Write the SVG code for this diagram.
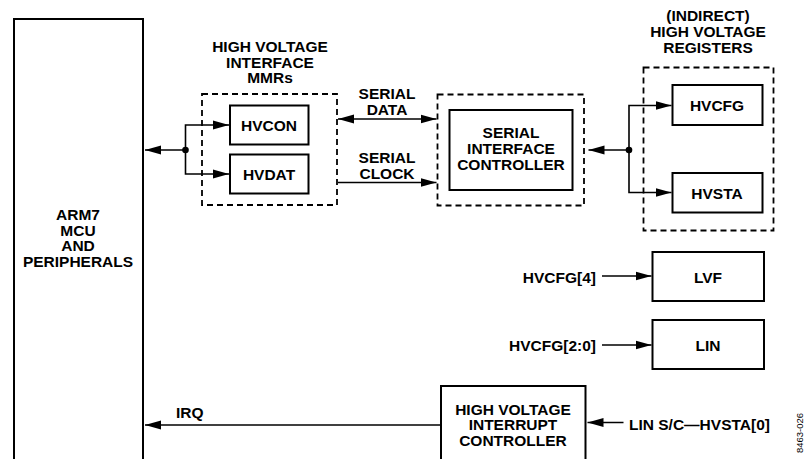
<svg xmlns="http://www.w3.org/2000/svg" width="804" height="459" viewBox="0 0 804 459">
<defs>
<marker id="ah" markerUnits="userSpaceOnUse" markerWidth="17" markerHeight="10" viewBox="0 0 17 10" refX="16" refY="5" orient="auto-start-reverse">
<path d="M0,0.5 L16,5 L0,9.5 Z" fill="#000"/>
</marker>
<style>
.t{font-family:"Liberation Sans",Arial,sans-serif;font-weight:bold;font-size:15.5px;fill:#000;text-anchor:middle}
.box{fill:none;stroke:#000;stroke-width:2}
.dash{fill:none;stroke:#000;stroke-width:1.8;stroke-dasharray:6 4}
.c{fill:none;stroke:#000;stroke-width:1.6}
</style>
</defs>
<rect width="804" height="459" fill="#fff"/>

<g id="arm7">
<path class="box" d="M14,470 V19 H143 V470"/>
<text class="t" x="78" y="220">ARM7</text>
<text class="t" x="78" y="235.5">MCU</text>
<text class="t" x="78" y="251">AND</text>
<text class="t" x="78" y="266.5">PERIPHERALS</text>
</g>

<g id="mmrs">
<text class="t" x="270" y="52">HIGH VOLTAGE</text>
<text class="t" x="270" y="67.5">INTERFACE</text>
<text class="t" x="270" y="83">MMRs</text>
<rect class="dash" x="202" y="94" width="135" height="111"/>
</g>
<g id="hvcon">
<rect class="box" x="230" y="105.5" width="78.5" height="39"/>
<text class="t" x="269" y="130.5">HVCON</text>
</g>
<g id="hvdat">
<rect class="box" x="230" y="154.5" width="78.5" height="39"/>
<text class="t" x="269" y="179.5">HVDAT</text>
</g>

<g id="sic">
<rect class="dash" x="437.5" y="94.5" width="146.5" height="111"/>
<rect class="box" x="449.5" y="110" width="123" height="80"/>
<text class="t" x="511" y="137.5">SERIAL</text>
<text class="t" x="511" y="153.5">INTERFACE</text>
<text class="t" x="511" y="170">CONTROLLER</text>
</g>

<g id="registers">
<text class="t" x="708" y="21">(INDIRECT)</text>
<text class="t" x="708" y="37">HIGH VOLTAGE</text>
<text class="t" x="708" y="53">REGISTERS</text>
<rect class="dash" x="643.5" y="67.5" width="130" height="163"/>
</g>
<g id="hvcfg">
<rect class="box" x="672.5" y="85" width="90" height="40"/>
<text class="t" x="717" y="110.5">HVCFG</text>
</g>
<g id="hvsta">
<rect class="box" x="672.5" y="173" width="90" height="39.5"/>
<text class="t" x="717" y="198.5">HVSTA</text>
</g>

<g id="lvf">
<rect class="box" x="652.5" y="252" width="111.5" height="49"/>
<text class="t" x="708" y="282.5">LVF</text>
</g>
<g id="lin">
<rect class="box" x="652.5" y="320" width="111.5" height="49"/>
<text class="t" x="708" y="351">LIN</text>
</g>

<g id="hvic">
<path class="box" d="M441,470 V386 H585.5 V470"/>
<text class="t" x="513" y="414.5">HIGH VOLTAGE</text>
<text class="t" x="513" y="430">INTERRUPT</text>
<text class="t" x="513" y="445.5">CONTROLLER</text>
</g>

<g id="connectors">
<path class="c" d="M185.5,150 H145" marker-end="url(#ah)"/>
<path class="c" d="M229,125 H185.5 V174 H229" marker-start="url(#ah)" marker-end="url(#ah)"/>
<circle cx="185.5" cy="150" r="3.3" fill="#000"/>

<path class="c" d="M338,119 H436.5" marker-start="url(#ah)" marker-end="url(#ah)"/>
<path class="c" d="M338,182.5 H436.5" marker-end="url(#ah)"/>
<text class="t" x="387" y="99">SERIAL</text>
<text class="t" x="387" y="115">DATA</text>
<text class="t" x="387" y="162.5">SERIAL</text>
<text class="t" x="387" y="179">CLOCK</text>

<path class="c" d="M629,150 H588.5" marker-end="url(#ah)"/>
<path class="c" d="M671.5,105.5 H629 V192.5 H671.5" marker-start="url(#ah)" marker-end="url(#ah)"/>
<circle cx="629" cy="150" r="3.3" fill="#000"/>

<path class="c" d="M602,276 H651.5" marker-end="url(#ah)"/>
<text class="t" x="596" y="282.5" style="text-anchor:end">HVCFG[4]</text>
<path class="c" d="M602,345 H651.5" marker-end="url(#ah)"/>
<text class="t" x="596" y="351" style="text-anchor:end">HVCFG[2:0]</text>

<path class="c" d="M623.5,422.5 H587.5" marker-end="url(#ah)"/>
<text class="t" x="629" y="430" style="text-anchor:start">LIN S/C—HVSTA[0]</text>

<path class="c" d="M440,425 H145" marker-end="url(#ah)"/>
<text class="t" x="176" y="417.5" style="text-anchor:start">IRQ</text>
</g>

<text x="803" y="433" transform="rotate(-90 803 433)" style="font-family:'Liberation Sans',Arial,sans-serif;font-size:9.5px;fill:#000;text-anchor:middle">8463-026</text>
</svg>
